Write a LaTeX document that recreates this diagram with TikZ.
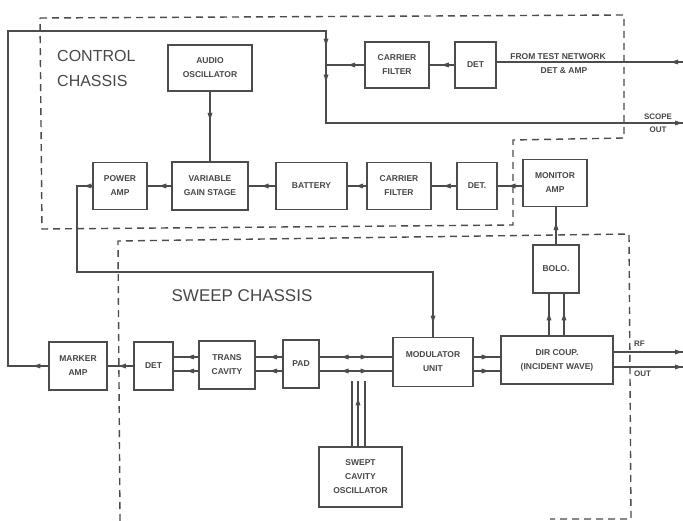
\documentclass[tikz,border=0pt]{standalone}
\usepackage{fontspec}
\setmainfont{Liberation Sans}
\usetikzlibrary{arrows.meta,decorations.markings,calc}
\definecolor{ink}{gray}{0.3}
\definecolor{txt}{gray}{0.28}
\tikzset{
  box/.style={draw=ink, line width=1.2pt, rectangle, inner sep=1pt, align=center,
    font=\fontsize{8.5}{14}\selectfont\bfseries, text=txt},
  wire/.style={draw=ink, line width=1.1pt},
  chassis/.style={draw=ink, line width=1.4pt, dash pattern=on 7pt off 5pt},
  tipa/.tip={Latex[length=8pt,width=5pt,line width=0pt,fill=ink]},
  arr/.style={postaction={decorate,decoration={markings,
      mark=at position #1 with {\arrow{tipa}}}}},
  rarr/.style={postaction={decorate,decoration={markings,
      mark=at position #1 with {\arrowreversed{tipa}}}}},
  lbl/.style={text=txt, inner sep=0pt},
}
\begin{document}
\begin{tikzpicture}[x=1pt,y=-1pt]
\useasboundingbox[fill=white] (0,0) rectangle (683,521);

% chassis outlines
\draw[chassis] (40,18) -- (624,15) -- (624,138) -- (513,140) -- (513,225) -- (42,229) -- cycle;
\draw[chassis] (120,521) -- (118,241) -- (629,234) -- (631,519) -- (550,519);

% labels
\node[lbl, anchor=west, align=left, font=\fontsize{16}{25}\selectfont] (ctl) at (57,68) {CONTROL\\CHASSIS};
\node[lbl, font=\fontsize{17}{20}\selectfont] (swp) at (242,296) {SWEEP CHASSIS};

% control chassis boxes
\node[box, minimum width=84pt, minimum height=46pt] (aosc) at (210,68) {AUDIO\\OSCILLATOR};
\node[box, minimum width=64pt, minimum height=46pt] (cf1) at (397,65) {CARRIER\\FILTER};
\node[box, minimum width=41pt, minimum height=46pt] (det1) at (475.5,65) {DET};
\node[box, minimum width=54pt, minimum height=47pt] (pamp) at (120,186) {POWER\\AMP};
\node[box, minimum width=76pt, minimum height=48pt] (vgs) at (210,186) {VARIABLE\\GAIN STAGE};
\node[box, minimum width=71pt, minimum height=47pt] (batt) at (311.5,186) {BATTERY};
\node[box, minimum width=64pt, minimum height=47pt] (cf2) at (399,186) {CARRIER\\FILTER};
\node[box, minimum width=40pt, minimum height=47pt] (det2) at (477,186) {DET.};
\node[box, minimum width=64pt, minimum height=47pt] (mamp) at (555,183) {MONITOR\\AMP};

% sweep chassis boxes
\node[box, minimum width=46pt, minimum height=48pt] (bolo) at (556,269) {BOLO.};
\node[box, minimum width=58pt, minimum height=48pt] (mkamp) at (78,366) {MARKER\\AMP};
\node[box, minimum width=39pt, minimum height=48pt] (det3) at (153.5,366) {DET};
\node[box, minimum width=56pt, minimum height=48pt] (tc) at (227,365) {TRANS\\CAVITY};
\node[box, minimum width=36pt, minimum height=48pt] (pad) at (301,364) {PAD};
\node[box, minimum width=80pt, minimum height=49pt] (mod) at (433,362) {MODULATOR\\UNIT};
\node[box, minimum width=112pt, minimum height=48pt] (dc) at (557,360) {DIR COUP.\\(INCIDENT WAVE)};
\node[box, minimum width=83pt, minimum height=60pt] (sco) at (360.5,477) {SWEPT\\CAVITY\\OSCILLATOR};

% free ends and corners
\coordinate (tin) at (683,62);
\coordinate (J) at (326,65);
\coordinate (lpB) at (8,31);
\coordinate (scope) at (683,123);
\coordinate (pw) at (77,272);
\coordinate (u) at (0,357);
\coordinate (d) at (0,371);
\coordinate (ru) at (683,352);
\coordinate (rd) at (683,367);
\coordinate (b1) at (549,0);
\coordinate (b2) at (564,0);
\coordinate (s1) at (352,381);
\coordinate (s2) at (358,381);
\coordinate (s3) at (365,381);

% top row
\draw[wire, arr=13pt] (tin) -- (det1.east |- tin);
\draw[wire, arr=0.55] (det1.west) -- (cf1.east);
\draw[wire, arr=0.45] (cf1.west) -- (J);
\draw[wire, arr=16pt, arr=709pt, arr=745pt, arr=1] (mkamp.west) -| (lpB) -| (J) |- (scope);

% lower control row
\draw[wire, arr=0.6] (mamp.west |- det2.east) -- (det2.east);
\draw[wire, arr=0.55] (det2.west) -- (cf2.east);
\draw[wire, arr=0.6] (cf2.west) -- (batt.east);
\draw[wire, arr=0.55] (batt.west) -- (vgs.east);
\draw[wire, arr=0.55] (vgs.west) -- (pamp.east);
\draw[wire, arr=0.42] (aosc.south) -- (vgs.north);
\draw[wire, arr=9pt, arr=509pt] (pamp.west) -| (pw) -| (mod.north);

% bolo and monitor
\draw[wire, arr=0.6] (bolo.north) -- (bolo.north |- mamp.south);
\draw[wire, arr=0.55] (dc.north -| b1) -- (bolo.south -| b1);
\draw[wire, arr=0.55] (dc.north -| b2) -- (bolo.south -| b2);

% sweep row
\draw[wire, arr=1] (dc.east |- ru) -- (ru);
\draw[wire, arr=1] (dc.east |- rd) -- (rd);
\draw[wire, arr=0.6] (mod.east |- u) -- (dc.west |- u);
\draw[wire, arr=0.6] (mod.east |- d) -- (dc.west |- d);
\draw[wire, rarr=21pt, arr=49pt] (pad.east |- u) -- (mod.west |- u);
\draw[wire, rarr=21pt, arr=49pt] (pad.east |- d) -- (mod.west |- d);
\draw[wire, arr=0.5] (pad.west |- u) -- (tc.east |- u);
\draw[wire, arr=0.5] (pad.west |- d) -- (tc.east |- d);
\draw[wire, arr=0.5] (tc.west |- u) -- (det3.east |- u);
\draw[wire, arr=0.5] (tc.west |- d) -- (det3.east |- d);
\draw[wire, arr=0.6] (det3.west) -- (mkamp.east);

% swept oscillator feeds
\draw[wire] (sco.north -| s1) -- (s1);
\draw[wire, arr=0.75] (sco.north -| s2) -- (s2);
\draw[wire] (sco.north -| s3) -- (s3);

% texts
\node[lbl, font=\fontsize{8.5}{10}\selectfont\bfseries] (ftn) at (558,57) {FROM TEST NETWORK};
\node[lbl, font=\fontsize{8.5}{10}\selectfont\bfseries] (dta) at (564,71) {DET \& AMP};
\node[lbl, font=\fontsize{8}{9}\selectfont\bfseries] (sc1) at (658,117) {SCOPE};
\node[lbl, font=\fontsize{8}{9}\selectfont\bfseries] (sc2) at (658,130) {OUT};
\node[lbl, anchor=west, font=\fontsize{8}{9}\selectfont\bfseries] (rf1) at (634,344) {RF};
\node[lbl, anchor=west, font=\fontsize{8}{9}\selectfont\bfseries] (rf2) at (634,374) {OUT};
\end{tikzpicture}
\end{document}
